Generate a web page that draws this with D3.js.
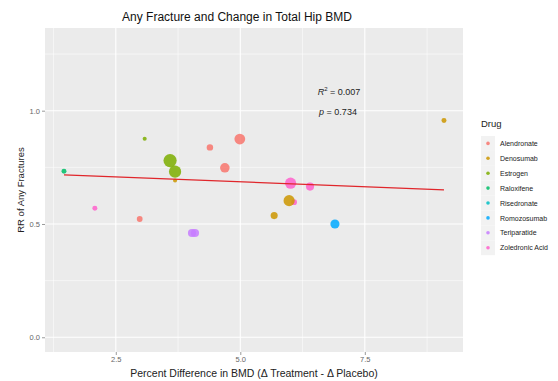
<!DOCTYPE html>
<html>
<head>
<meta charset="utf-8">
<script src="https://cdn.jsdelivr.net/npm/d3@7"></script>
<style>
  html, body { margin: 0; padding: 0; background: #fff; }
  svg { display: block; font-family: "Liberation Sans", Arial, sans-serif; }
</style>
</head>
<body>
<svg id="chart" width="558" height="381"></svg>
<script>
// Drug levels and their ggplot-style hue colours
const drugs = ["Alendronate", "Denosumab", "Estrogen", "Raloxifene", "Risedronate",
               "Romozosumab", "Teriparatide", "Zoledronic Acid"];
const drugColors = ["#F8766D", "#CD9600", "#7CAE00", "#00BE67", "#00BFC4",
                    "#00A9FF", "#C77CFF", "#FF61CC"];

// One entry per trial: drug, BMD difference (%), relative risk, study weight
const trialDrug = ["Raloxifene", "Zoledronic Acid", "Alendronate", "Estrogen", "Estrogen",
                   "Estrogen", "Denosumab", "Alendronate", "Alendronate", "Alendronate",
                   "Teriparatide", "Teriparatide", "Zoledronic Acid", "Zoledronic Acid",
                   "Zoledronic Acid", "Denosumab", "Denosumab", "Romozosumab", "Denosumab"];
const bmdDiff   = [1.46, 2.08, 2.98, 3.08, 3.59,
                   3.69, 3.69, 4.39, 4.99, 4.69,
                   4.03, 4.09, 6.01, 6.40,
                   6.08, 5.98, 5.68, 6.90, 9.09];
const rrFracture = [0.733, 0.569, 0.522, 0.876, 0.780,
                    0.731, 0.692, 0.838, 0.875, 0.748,
                    0.460, 0.460, 0.680, 0.665,
                    0.596, 0.603, 0.537, 0.500, 0.957];
const studyWeight = [6, 6, 8, 4, 42,
                     36, 4, 10, 28, 22,
                     16, 16, 30, 16,
                     8, 30, 12, 20, 6];

// Meta-regression fit and its statistics
const fitIntercept = 0.730;
const fitSlope = -0.00878;
const rSquared = "0.007";
const pValue = "0.734";

// Axis ticks
const xTicks = [2.5, 5.0, 7.5];
const xMinorTicks = [1.25, 3.75, 6.25, 8.75];
const yTicks = [0.0, 0.5, 1.0];
const yMinorTicks = [0.25, 0.75, 1.25];

const svg = d3.select("#chart");
const panel = { left: 45, top: 28, right: 463, bottom: 352 };

// Axis limits with a 5% expansion, as ggplot does
const xExt = d3.extent(bmdDiff);
const xPad = (xExt[1] - xExt[0]) * 0.05;
const x = d3.scaleLinear().domain([xExt[0] - xPad, xExt[1] + xPad])
  .range([panel.left, panel.right]);
const yPad = 1.3 * 0.05;
const y = d3.scaleLinear().domain([0 - yPad, 1.3 + yPad])
  .range([panel.bottom, panel.top]);
const r = d3.scaleSqrt().domain([0, d3.max(studyWeight)]).range([0, 6.6]);
const color = d3.scaleOrdinal().domain(drugs).range(drugColors);

// Panel background and grid
svg.append("rect")
  .attr("x", panel.left).attr("y", panel.top)
  .attr("width", panel.right - panel.left).attr("height", panel.bottom - panel.top)
  .attr("fill", "#EBEBEB");

const grid = svg.append("g");
grid.selectAll(".xminor").data(xMinorTicks.filter(t => x(t) > panel.left)).enter().append("line")
  .attr("x1", d => x(d)).attr("x2", d => x(d)).attr("y1", panel.top).attr("y2", panel.bottom)
  .attr("stroke", "#fff").attr("stroke-width", 0.55);
grid.selectAll(".yminor").data(yMinorTicks).enter().append("line")
  .attr("y1", d => y(d)).attr("y2", d => y(d)).attr("x1", panel.left).attr("x2", panel.right)
  .attr("stroke", "#fff").attr("stroke-width", 0.55);
grid.selectAll(".xmajor").data(xTicks).enter().append("line")
  .attr("x1", d => x(d)).attr("x2", d => x(d)).attr("y1", panel.top).attr("y2", panel.bottom)
  .attr("stroke", "#fff").attr("stroke-width", 1.1);
grid.selectAll(".ymajor").data(yTicks).enter().append("line")
  .attr("y1", d => y(d)).attr("y2", d => y(d)).attr("x1", panel.left).attr("x2", panel.right)
  .attr("stroke", "#fff").attr("stroke-width", 1.1);

// Axes
const xAxis = svg.append("g")
  .attr("transform", `translate(0,${panel.bottom})`)
  .call(d3.axisBottom(x).tickValues(xTicks).tickFormat(d3.format(".1f")).tickSize(3).tickPadding(2));
const yAxis = svg.append("g")
  .attr("transform", `translate(${panel.left},0)`)
  .call(d3.axisLeft(y).tickValues(yTicks).tickFormat(d3.format(".1f")).tickSize(3).tickPadding(2));
[xAxis, yAxis].forEach(a => {
  a.select(".domain").remove();
  a.selectAll(".tick line").attr("stroke", "#555").attr("stroke-width", 0.6);
  a.selectAll(".tick text").attr("fill", "#666").style("font-size", "7.5px")
    .style("font-family", "Liberation Sans, Arial, sans-serif");
});

// Trial points
const trials = trialDrug.map((d, i) => ({ drug: d, x: bmdDiff[i], y: rrFracture[i], w: studyWeight[i] }));
svg.append("g").selectAll("circle").data(trials).enter().append("circle")
  .attr("cx", d => x(d.x)).attr("cy", d => y(d.y)).attr("r", d => r(d.w))
  .attr("fill", d => color(d.drug)).attr("fill-opacity", 0.85);

// Fitted regression line over the data range
svg.append("line")
  .attr("x1", x(xExt[0])).attr("y1", y(fitIntercept + fitSlope * xExt[0]))
  .attr("x2", x(xExt[1])).attr("y2", y(fitIntercept + fitSlope * xExt[1]))
  .attr("stroke", "#E0262B").attr("stroke-width", 1.2);

// Fit statistics
const stat1 = svg.append("text").attr("x", 339).attr("y", 95).attr("text-anchor", "middle")
  .attr("fill", "#222").style("font-size", "9px");
stat1.append("tspan").style("font-style", "italic").text("R");
stat1.append("tspan").attr("dy", -4).style("font-size", "6px").text("2");
stat1.append("tspan").attr("dy", 4).text(" = " + rSquared);
const stat2 = svg.append("text").attr("x", 338).attr("y", 115).attr("text-anchor", "middle")
  .attr("fill", "#222").style("font-size", "9px");
stat2.append("tspan").style("font-style", "italic").text("p");
stat2.append("tspan").text(" = " + pValue);

// Titles
svg.append("text").attr("x", 237).attr("y", 21).attr("text-anchor", "middle")
  .attr("fill", "#111").style("font-size", "12px").text("Any Fracture and Change in Total Hip BMD");
svg.append("text").attr("x", (panel.left + panel.right) / 2).attr("y", 377).attr("text-anchor", "middle")
  .attr("fill", "#222").style("font-size", "10.5px")
  .text("Percent Difference in BMD (\u0394 Treatment - \u0394 Placebo)");
svg.append("text").attr("transform", `translate(24,${(panel.top + panel.bottom) / 2}) rotate(-90)`)
  .attr("text-anchor", "middle").attr("fill", "#222").style("font-size", "9.5px")
  .text("RR of Any Fractures");

// Legend
const legend = svg.append("g").attr("transform", "translate(478,0)");
legend.append("text").attr("x", 3).attr("y", 127).attr("fill", "#222")
  .style("font-size", "9.5px").text("Drug");
const items = legend.selectAll(".item").data(drugs).enter().append("g")
  .attr("transform", (d, i) => `translate(0,${136 + i * 14.9})`);
items.append("rect").attr("x", 3).attr("y", 0).attr("width", 14).attr("height", 14.9)
  .attr("fill", "#F2F2F2");
items.append("circle").attr("cx", 10).attr("cy", 7.4).attr("r", 1.8)
  .attr("fill", d => color(d)).attr("fill-opacity", 0.85);
items.append("text").attr("x", 22).attr("y", 10).attr("fill", "#222")
  .style("font-size", "7px").text(d => d);
</script>
</body>
</html>
